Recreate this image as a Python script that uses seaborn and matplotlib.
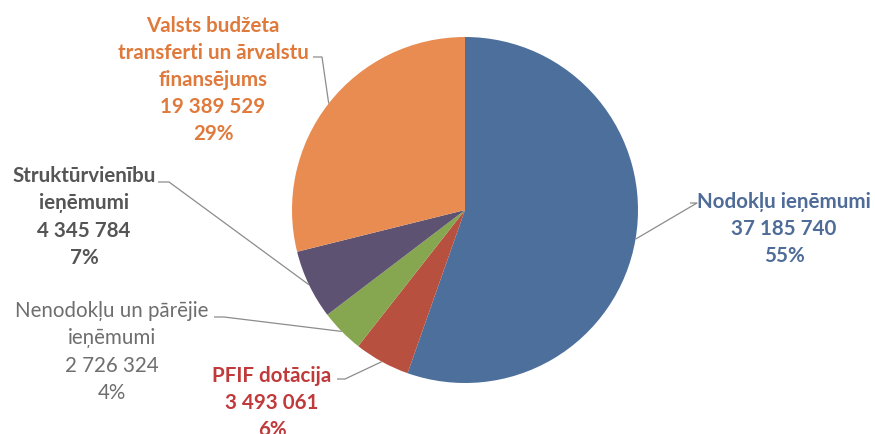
import numpy as np
import matplotlib.pyplot as plt
import seaborn as sns

# Data
categories = [
    "Nodokļu ieņēmumi",
    "PFIF dotācija",
    "Nenodokļu un pārējie\nieņēmumi",
    "Struktūrvienību\nieņēmumi",
    "Valsts budžeta\ntransferti un ārvalstu\nfinansējums",
]
amounts = [37185740, 3493061, 2726324, 4345784, 19389529]
amount_labels = ["37 185 740", "3 493 061", "2 726 324", "4 345 784", "19 389 529"]
percent_labels = ["55%", "6%", "4%", "7%", "29%"]

wedge_colors = ["#4c6f9c", "#b8503f", "#86a650", "#5e5272", "#e98c52"]
text_colors = ["#4f6c98", "#c0393b", "#6e6e6e", "#555555", "#e07a3c"]
text_weights = ["bold", "bold", "normal", "bold", "bold"]

sns.set_theme(style="white")
plt.rcParams["font.family"] = ["Lato", "DejaVu Sans"]

W, H = 875, 434
fig = plt.figure(figsize=(W / 100, H / 100), dpi=100)
ax = fig.add_axes([0, 0, 1, 1])

cx, cy, r = 465, H - 210, 173
wedges, _ = ax.pie(
    amounts,
    colors=wedge_colors,
    startangle=90,
    counterclock=False,
    center=(cx, cy),
    radius=r,
    frame=True,
    wedgeprops=dict(linewidth=0),
)
ax.set_xlim(0, W)
ax.set_ylim(0, H)
ax.set_aspect("equal")
ax.axis("off")

# label layout in image px: text block center, leader end at text, elbow point
layout = [
    dict(x=784, y=229, end=(690, 203), elbow=(697, 203)),
    dict(x=272, y=403, end=(337, 379), elbow=(345, 379)),
    dict(x=112, y=352, end=(214, 317), elbow=(224, 317)),
    dict(x=84, y=217, end=(158, 182), elbow=(169, 182)),
    dict(x=213, y=80, end=(313, 57), elbow=(322, 57)),
]

for w, cat, amt, pct, tc, tw, lay in zip(
    wedges, categories, amount_labels, percent_labels, text_colors, text_weights, layout
):
    mid = np.deg2rad((w.theta1 + w.theta2) / 2)
    px, py = cx + r * np.cos(mid), cy + r * np.sin(mid)
    ex, ey = lay["end"]
    bx, by = lay["elbow"]
    ax.plot([ex, bx, px], [H - ey, H - by, py], color="#8c8c8c", lw=0.9,
            solid_capstyle="butt")
    ax.text(lay["x"], H - lay["y"], f"{cat}\n{amt}\n{pct}", ha="center",
            va="center", multialignment="center", color=tc, fontsize=14.8,
            fontweight=tw, linespacing=1.45)

fig.savefig("out.png", dpi=100)
